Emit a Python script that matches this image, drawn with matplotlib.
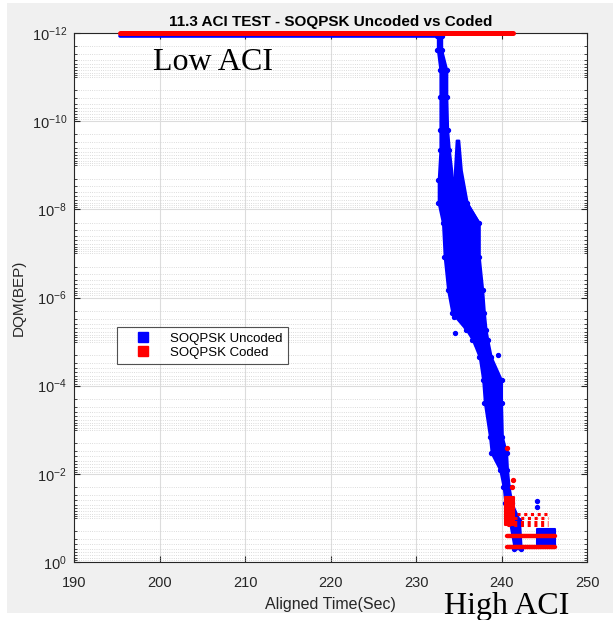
import numpy as np
import matplotlib
matplotlib.use("Agg")
import matplotlib.pyplot as plt
from matplotlib.patches import Rectangle
from matplotlib.lines import Line2D
from matplotlib.ticker import LogLocator, FixedLocator, FixedFormatter, NullFormatter

plt.rcParams["font.family"] = ["Liberation Sans", "DejaVu Sans"]
plt.rcParams["mathtext.fontset"] = "custom"
plt.rcParams["mathtext.rm"] = "Liberation Sans"
plt.rcParams["mathtext.it"] = "Liberation Sans"

# ---- datos (y en log10 del DQM) ----
# linea superior (BEP ~ 1e-12)
x_top_coded = [195.4, 241.3]
y_top_coded = [-12.0, -12.0]
x_top_uncoded = [195.4, 232.8]
y_top_uncoded = [-11.93, -11.93]

# envolvente de la caida del caso sin codificar
band_y = [-11.93, -11.62, -11.16, -10.55, -9.80, -9.35, -8.67, -8.14, -7.69,
          -6.92, -6.17, -5.65, -5.26, -5.04, -4.65, -4.13, -3.61, -2.84,
          -2.47, -2.09, -1.70, -1.34, -0.95, -0.30]
band_xmin = [232.5, 232.5, 232.8, 232.8, 232.8, 232.8, 232.6, 232.6, 233.1,
             233.3, 233.7, 234.2, 235.9, 236.6, 237.4, 237.8, 238.0, 238.6,
             238.8, 239.8, 240.2, 240.4, 240.9, 241.5]
band_xmax = [233.0, 233.0, 233.6, 233.6, 233.7, 233.9, 234.3, 236.0, 237.4,
             237.4, 237.8, 238.0, 238.2, 238.4, 238.8, 240.0, 240.0, 240.1,
             240.6, 240.7, 240.9, 241.2, 242.1, 242.3]

# pico secundario
spike_y = [-9.57, -8.89, -8.14, -7.69]
spike_xmin = [234.7, 234.5, 234.5, 234.6]
spike_xmax = [235.0, 235.3, 236.0, 237.4]

# bloque azul al final
blue_tail_x = [244.1, 246.2]
blue_tail_lo = [-0.75, -0.75]
blue_tail_hi = [-0.38, -0.38]

# puntos sueltos
blue_out_x = [234.5, 234.6, 239.6, 244.1, 244.1, 237.0, 236.2]
blue_out_y = [-5.56, -5.19, -4.70, -1.38, -1.25, -4.95, -5.45]
red_out_x = [240.7, 241.2, 241.3]
red_out_y = [-2.59, -1.70, -1.85]

# coded: nube al llegar a alta ACI
red_cl_y = [-1.48, -0.84]
red_cl_xmin = [240.4, 240.4]
red_cl_xmax = [241.5, 241.5]
# filas de puntos dispersos (coded)
red_rows_y = [-1.10, -1.00, -0.90, -0.84]
red_rows_x0 = [241.8, 241.5, 240.6, 240.6]
red_rows_x1 = [245.4, 245.4, 245.4, 245.4]
# filas solidas (coded)
red_line_y = [-0.59, -0.34]
red_line_x0 = [240.6, 240.6]
red_line_x1 = [246.2, 246.2]

BLUE = (0, 0, 1)
RED = (1, 0, 0)

fig = plt.figure(figsize=(6.13, 6.2), dpi=100, facecolor="white")
fig.patches.append(Rectangle((7 / 613, 7 / 620), 606 / 613, 610 / 620,
                             transform=fig.transFigure, facecolor="#f0f0f0",
                             edgecolor="none", zorder=-10))

ax = fig.add_axes([74 / 613, 58 / 620, 513 / 613, 529 / 620])
ax.set_facecolor("white")
ax.set_yscale("log")

p = lambda v: 10.0 ** np.asarray(v)

ax.fill_betweenx(p(band_y), band_xmin, band_xmax, color=BLUE, lw=1.5,
                 edgecolor=BLUE, zorder=3)
ax.scatter(band_xmin, p(band_y), s=8, color=BLUE, zorder=3)
ax.scatter(band_xmax, p(band_y), s=8, color=BLUE, zorder=3)
ax.fill_betweenx(p(spike_y), spike_xmin, spike_xmax, color=BLUE, lw=1.5,
                 edgecolor=BLUE, zorder=3)
ax.fill_between(blue_tail_x, p(blue_tail_lo), p(blue_tail_hi), color=BLUE,
                lw=1.5, edgecolor=BLUE, zorder=3)
ax.scatter(blue_out_x, p(blue_out_y), s=8, color=BLUE, zorder=3)

ax.plot(x_top_uncoded, p(y_top_uncoded), color=BLUE, lw=2.6,
        solid_capstyle="round", zorder=4, clip_on=False)
ax.plot(x_top_coded, p(y_top_coded), color=RED, lw=3.6,
        solid_capstyle="round", zorder=5, clip_on=False)

ax.fill_betweenx(p(red_cl_y), red_cl_xmin, red_cl_xmax, color=RED, lw=1.5,
                 edgecolor=RED, zorder=5)
for yv, a, b in zip(red_rows_y, red_rows_x0, red_rows_x1):
    ax.plot([a, b], p([yv, yv]), color=RED, lw=2.2, ls=(0, (1, 1.2)), zorder=5)
for yv, a, b in zip(red_line_y, red_line_x0, red_line_x1):
    ax.plot([a, b], p([yv, yv]), color=RED, lw=3.2, solid_capstyle="round",
            zorder=5)
ax.scatter(red_out_x, p(red_out_y), s=8, color=RED, zorder=5)

# ejes estilo matlab
ax.set_xlim(190, 250)
ax.set_ylim(1, 1e-12)
ax.set_xticks([190, 200, 210, 220, 230, 240, 250])
ax.yaxis.set_major_locator(FixedLocator([1e-12, 1e-10, 1e-8, 1e-6, 1e-4, 1e-2, 1]))
ax.yaxis.set_major_formatter(FixedFormatter(
    ["$10^{-12}$", "$10^{-10}$", "$10^{-8}$", "$10^{-6}$", "$10^{-4}$",
     "$10^{-2}$", "$10^{0}$"]))
ax.yaxis.set_minor_locator(LogLocator(base=10, subs=np.arange(1, 10), numticks=30))
ax.yaxis.set_minor_formatter(NullFormatter())

ax.grid(True, which="major", color="#dcdcdc", lw=0.8)
ax.grid(True, which="minor", axis="y", color="#d0d0d0", lw=0.6, ls=":")
ax.set_axisbelow(True)
ax.tick_params(which="both", direction="in", top=True, right=True,
               colors="#262626", labelsize=10.5)
ax.tick_params(which="major", length=4)
ax.tick_params(which="minor", length=2)
ax.tick_params(axis="x", pad=10)
ax.tick_params(axis="y", pad=5)
for s in ax.spines.values():
    s.set_color("#262626")
    s.set_linewidth(0.8)

ax.set_title("11.3 ACI TEST - SOQPSK Uncoded vs Coded", fontsize=11,
             fontweight="bold", color="black", pad=5)
ax.set_xlabel("Aligned Time(Sec)", fontsize=11.5, color="#262626", labelpad=5)
ax.set_ylabel("DQM(BEP)", fontsize=11, color="#262626", labelpad=4)

handles = [Line2D([], [], ls="none", marker="s", ms=7, color=BLUE),
           Line2D([], [], ls="none", marker="s", ms=7, color=RED)]
leg = ax.legend(handles, ["SOQPSK Uncoded", "SOQPSK Coded"], loc="upper left",
                bbox_to_anchor=(43 / 513, 235 / 529), borderaxespad=0,
                fontsize=9.5, frameon=True, fancybox=False, handlelength=3.2,
                handletextpad=0.45, borderpad=0.4, labelspacing=0.15)
leg.get_frame().set_edgecolor("#262626")
leg.get_frame().set_linewidth(0.8)

fig.text(153 / 613, 1 - 70 / 620, "Low ACI", fontsize=23,
         family="Liberation Serif", va="baseline", ha="left")
fig.text(444 / 613, 1 - 614 / 620, "High ACI", fontsize=23,
         family="Liberation Serif", va="baseline", ha="left")

fig.savefig("out.png", dpi=100, facecolor="white")
